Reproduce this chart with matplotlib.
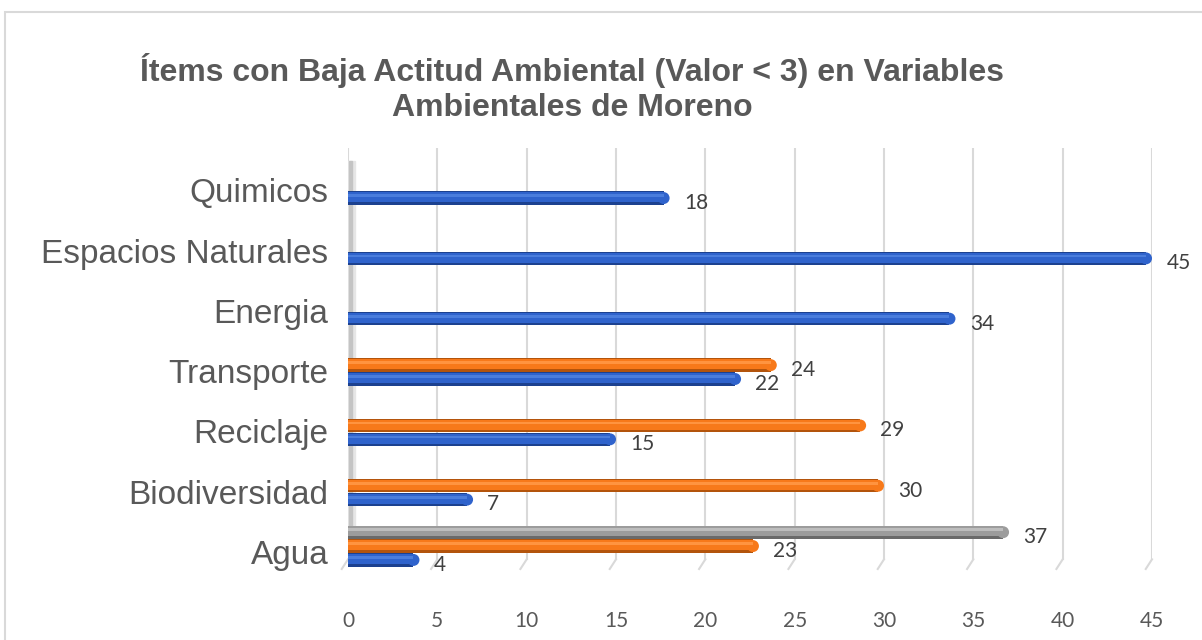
import matplotlib.pyplot as plt
from matplotlib.patches import Rectangle
import numpy as np

categories = ['Agua', 'Biodiversidad', 'Reciclaje', 'Transporte',
              'Energia', 'Espacios Naturales', 'Quimicos']
serie_azul = [4, 7, 15, 22, 34, 45, 18]
serie_naranja = [23, 30, 29, 24, None, None, None]
serie_gris = [37, None, None, None, None, None, None]
x_ticks = [0, 5, 10, 15, 20, 25, 30, 35, 40, 45]

title = 'Ítems con Baja Actitud Ambiental (Valor < 3) en Variables\nAmbientales de Moreno'

fig = plt.figure(figsize=(12.02, 6.4), dpi=100)
fig.patch.set_facecolor('white')
# chart frame
fig.patches.append(Rectangle((5 / 1202, -0.1), 1.2, 1.1 - 12 / 640,
                             transform=fig.transFigure, fill=False,
                             edgecolor='#d9d9d9', linewidth=1.5))

ax = fig.add_axes([348 / 1202, 1 - 572 / 640, 804 / 1202, 424 / 640])
ax.set_xlim(0, 45)
ax.set_ylim(-0.33, 6.70)

# grid lines with little 3D feet
for t in x_ticks:
    ax.plot([t, t], [-0.12, 6.70], color='#d9d9d9', linewidth=1.5, zorder=1)
    ax.plot([t, t - 0.35], [-0.12, -0.28], color='#d9d9d9', linewidth=1.5,
            zorder=1, clip_on=False)

# left wall
ax.axvspan(0, 0.4, ymin=0.02, ymax=0.97, color='#e6e6e6', zorder=1.5)
ax.axvspan(0.05, 0.2, ymin=0.02, ymax=0.97, color='#c4c4c4', zorder=1.6)

y = np.arange(len(categories))
h = 0.22
bar_px = h * 424 / 7.03
px_per_unit = 804 / 45
r = bar_px * 0.45 / px_per_unit   # rounded end, data units
cap_size = (bar_px * 0.9 * 0.72) ** 2


def cylinder(vals, offset, base, light, dark):
    for i, v in enumerate(vals):
        if v is None:
            continue
        yc = y[i] + offset
        ax.barh(yc, v - r, height=h, color=dark, zorder=3)
        ax.barh(yc + 0.012, v - r, height=h * 0.75, color=base, zorder=4)
        ax.barh(yc + 0.04, v - r, height=h * 0.2, color=light, zorder=5)
        ax.scatter([v - r], [yc], s=cap_size, marker='o', color=base,
                   edgecolors='none', zorder=3.5)
        ax.text(v + 0.8, yc - 0.08, str(v), fontsize=15, color='#404040',
                family='Lato', va='center', ha='left', zorder=6)


cylinder(serie_azul, -0.13, '#2f63cc', '#4a7ddc', '#1c418f')
cylinder(serie_naranja, 0.10, '#f7791a', '#ff9440', '#b3540c')
cylinder(serie_gris, 0.33, '#9c9c9c', '#bdbdbd', '#6a6a6a')

ax.set_yticks(y)
ax.set_yticklabels(categories, fontsize=24, color='#595959',
                   family='Liberation Sans')
ax.set_xticks(x_ticks)
ax.set_xticklabels([str(t) for t in x_ticks], fontsize=15, color='#595959',
                   family='Lato')
ax.tick_params(axis='x', length=0, pad=28)
ax.tick_params(axis='y', length=0, pad=14)
for s in ax.spines.values():
    s.set_visible(False)

fig.text(572 / 1202, 1 - 53 / 640, title, ha='center', va='top',
         fontsize=23, fontweight='bold', color='#595959',
         family='Liberation Sans', linespacing=1.2)

fig.savefig('out.png', dpi=100)
